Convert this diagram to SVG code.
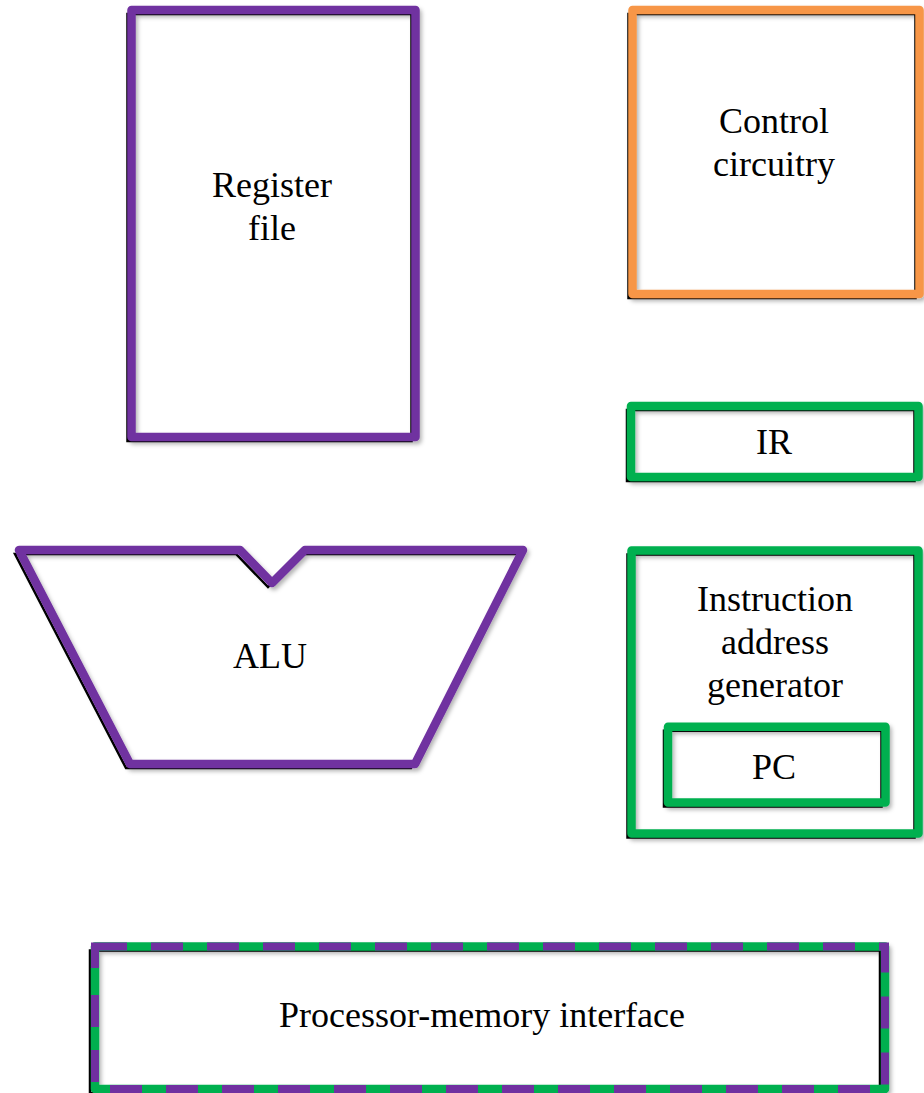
<svg xmlns="http://www.w3.org/2000/svg" width="924" height="1093" viewBox="0 0 924 1093">
<defs>
<filter id="sh" x="-10%" y="-10%" width="130%" height="130%">
<feDropShadow dx="2" dy="3" stdDeviation="2" flood-color="#000" flood-opacity="0.3"/>
</filter>
<style>
.box{fill:none;stroke-width:8.5;stroke-linejoin:round}
.blk{fill:none;stroke:#000;stroke-width:2.5}
.pur{stroke:#7030A0}
.org{stroke:#F79646}
.grn{stroke:#00B050}
.dsh{fill:none;stroke:#7030A0;stroke-width:8;stroke-linecap:butt;stroke-linejoin:miter}
text{font-family:"Liberation Serif","Times New Roman",serif;font-size:36px;fill:#000;text-anchor:middle}
</style>
</defs>
<rect width="924" height="1093" fill="#fff"/>
<g id="register-file">
<rect class="blk" x="127.5" y="14" width="284" height="427"/>
<rect class="box pur" x="131.5" y="10" width="284" height="427" filter="url(#sh)"/>
<text x="272" y="197">Register</text>
<text x="272" y="240">file</text>
</g>
<g id="control-circuitry">
<rect class="blk" x="628.5" y="14" width="287" height="284"/>
<rect class="box org" x="632.5" y="10" width="287" height="284" filter="url(#sh)"/>
<text x="774" y="133">Control</text>
<text x="774" y="176">circuitry</text>
</g>
<g id="ir">
<rect class="blk" x="627" y="410" width="287.5" height="71"/>
<rect class="box grn" x="631" y="406" width="287.5" height="71" filter="url(#sh)"/>
<text x="774" y="454">IR</text>
</g>
<g id="alu">
<polygon class="blk" points="15,554 236,554 268,587 301,554 519,554 411,768 126,768"/>
<polygon class="box pur" points="19,550 240,550 272,583 305,550 523,550 415,764 130,764" filter="url(#sh)"/>
<text x="270" y="668">ALU</text>
</g>
<g id="instruction-address-generator">
<rect class="blk" x="627.5" y="554.5" width="287" height="283"/>
<rect class="box grn" x="631.5" y="550.5" width="287" height="283" filter="url(#sh)"/>
<text x="775" y="611">Instruction</text>
<text x="775" y="654">address</text>
<text x="775" y="697">generator</text>
</g>
<g id="pc">
<rect class="blk" x="664" y="730.7" width="217.5" height="75.8"/>
<rect class="box grn" x="668" y="726.7" width="217.5" height="75.8" filter="url(#sh)"/>
<text x="774" y="779">PC</text>
</g>
<g id="processor-memory-interface">
<rect class="blk" x="90" y="950.5" width="790" height="142.5"/>
<rect class="box grn" x="95" y="946.5" width="790" height="142.5" filter="url(#sh)"/>
<path class="dsh" d="M95,968 V946.5 H127 M151,946.5 H183 M207,946.5 H239 M263,946.5 H295 M319,946.5 H351 M375,946.5 H407 M431,946.5 H463 M487,946.5 H519 M543,946.5 H575 M599,946.5 H631 M655,946.5 H687 M711,946.5 H743 M767,946.5 H799 M823,946.5 H855 M879,946.5 H885 V972.5 M885,996.5 V1028.5 M885,1052.5 V1084.5 M838,1089 H870 M782,1089 H814 M726,1089 H758 M670,1089 H702 M614,1089 H646 M558,1089 H590 M502,1089 H534 M446,1089 H478 M390,1089 H422 M334,1089 H366 M278,1089 H310 M222,1089 H254 M166,1089 H198 M110,1089 H142 M95,1082 V1050 M95,1027 V995"/>
<text x="482" y="1027">Processor-memory interface</text>
</g>
<g id="connectors"></g>
</svg>
